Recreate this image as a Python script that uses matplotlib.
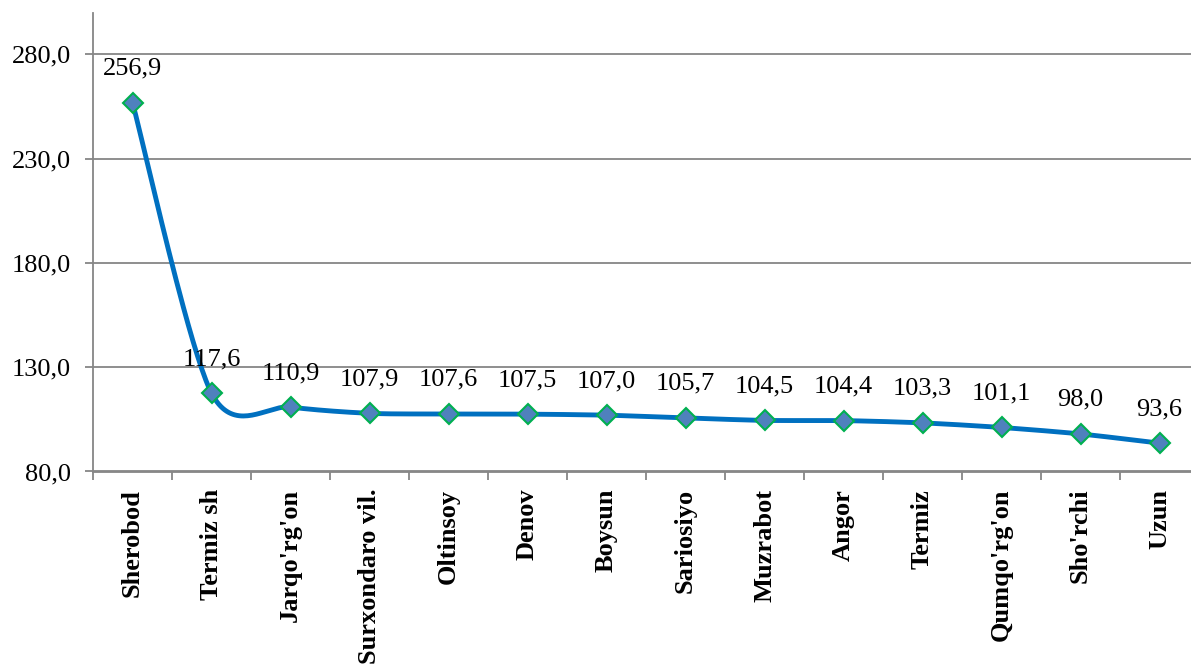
import numpy as np
import matplotlib
matplotlib.use("Agg")
import matplotlib.pyplot as plt
from matplotlib.ticker import FuncFormatter

categories = ["Sherobod", "Termiz sh", "Jarqo'rg'on", "Surxondaro vil.", "Oltinsoy",
              "Denov", "Boysun", "Sariosiyo", "Muzrabot", "Angor", "Termiz",
              "Qumqo'rg'on", "Sho'rchi", "Uzun"]
values = [256.9, 117.6, 110.9, 107.9, 107.6, 107.5, 107.0, 105.7, 104.5, 104.4,
          103.3, 101.1, 98.0, 93.6]
yticks = [80, 130, 180, 230, 280]

plt.rcParams['font.family'] = ['Liberation Serif', 'DejaVu Serif']

W, H = 1191, 665
fig = plt.figure(figsize=(W / 100, H / 100), dpi=100)
left = 93 / W
bottom = 1 - 471.5 / H
top = 1 - 12.7 / H
width = 1106 / W
ax = fig.add_axes([left, bottom, width, top - bottom])

x = np.arange(len(values), dtype=float)
y = np.array(values, dtype=float)

# Smoothed line (Catmull-Rom style, like spreadsheet "smoothed line")
xs, ys = [], []
n = len(x)
k = 1 / 7
for i in range(n - 1):
    p0 = (x[i - 1], y[i - 1]) if i > 0 else (x[i], y[i])
    p1 = (x[i], y[i])
    p2 = (x[i + 1], y[i + 1])
    p3 = (x[i + 2], y[i + 2]) if i + 2 < n else (x[i + 1], y[i + 1])
    c1 = (p1[0] + (p2[0] - p0[0]) * k, p1[1] + (p2[1] - p0[1]) * k)
    c2 = (p2[0] - (p3[0] - p1[0]) * k, p2[1] - (p3[1] - p1[1]) * k)
    t = np.linspace(0, 1, 40)
    bx = (1 - t) ** 3 * p1[0] + 3 * (1 - t) ** 2 * t * c1[0] + 3 * (1 - t) * t ** 2 * c2[0] + t ** 3 * p2[0]
    by = (1 - t) ** 3 * p1[1] + 3 * (1 - t) ** 2 * t * c1[1] + 3 * (1 - t) * t ** 2 * c2[1] + t ** 3 * p2[1]
    xs.extend(bx)
    ys.extend(by)

ax.plot(xs, ys, color='#0070C0', lw=3.5, solid_capstyle='round', zorder=3)
ax.plot(x, y, linestyle='none', marker='D', markersize=10,
        markerfacecolor='#4F81BD', markeredgecolor='#00B050', markeredgewidth=1.5, zorder=4)

for xi, yi in zip(x, y):
    ax.annotate(f"{yi:.1f}".replace('.', ','), (xi, yi), xytext=(0, 24.5),
                textcoords='offset points', ha='center', va='center', fontsize=19, zorder=5)

ax.set_xlim(-0.5, n - 0.5)
ax.set_ylim(80, 300)
ax.set_yticks(yticks)
ax.yaxis.set_major_formatter(FuncFormatter(lambda v, p: f"{v:.1f}".replace('.', ',')))
ax.grid(axis='y', color='#868686', lw=1.3)
ax.set_axisbelow(True)

ax.set_xticks(x)
ax.set_xticklabels(categories, rotation=90, fontsize=19, fontweight='bold', ha='center', va='top')
ax.set_xticks(np.arange(-0.5, n, 1.0), minor=True)
ax.tick_params(axis='x', which='major', length=0, pad=12.5)
ax.tick_params(axis='x', which='minor', length=6, width=1.3, color='#868686')
ax.tick_params(axis='y', length=6, width=1.3, color='#868686', labelsize=19, pad=10)

for s in ['top', 'right']:
    ax.spines[s].set_visible(False)
for s in ['left', 'bottom']:
    ax.spines[s].set_color('#868686')
    ax.spines[s].set_linewidth(1.3)

fig.savefig('out.png', dpi=100)
